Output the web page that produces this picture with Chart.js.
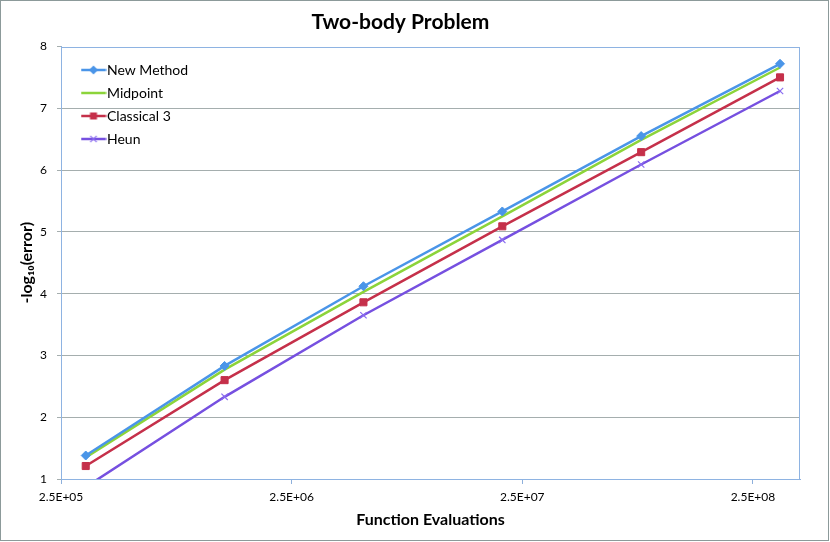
<!DOCTYPE html>
<html><head><meta charset="utf-8">
<script src="https://cdn.jsdelivr.net/npm/chart.js@4.4.1/dist/chart.umd.min.js"></script>
<style>
html,body{margin:0;padding:0;background:#fff;}
#wrap{position:absolute;left:0;top:0;width:827px;height:539px;border:1px solid #8C9A9A;background:#fff;}
canvas{display:block;}
</style></head><body>
<div id="wrap"><canvas id="c" width="827" height="539"></canvas></div>
<script>
// ---- data ----
const evaluations = [320000, 1280000, 5120000, 20480000, 81920000, 327680000];
const newMethod  = [1.38, 2.83, 4.12, 5.33, 6.55, 7.72];
const midpoint   = [1.35, 2.77, 4.03, 5.25, 6.49, 7.66];
const classical3 = [1.21, 2.60, 3.86, 5.09, 6.29, 7.50];
const heun       = [0.87, 2.33, 3.65, 4.87, 6.09, 7.28];
const seriesNames = ['New Method', 'Midpoint', 'Classical 3', 'Heun'];
const xTickValues = [2.5e5, 2.5e6, 2.5e7, 2.5e8];
const xTickLabels = ['2.5E+05', '2.5E+06', '2.5E+07', '2.5E+08'];
const yTickValues = [1, 2, 3, 4, 5, 6, 7, 8];
const chartTitle = 'Two-body Problem';
const xTitle = 'Function Evaluations';
const yTitle = '-log\u2081\u2080(error)';

// ---- styles ----
const FONT = 'Lato, "Liberation Sans", sans-serif';
const colors = ['#4A95E8', '#8CD43A', '#C5304A', '#7650E0'];
const markerColors = ['#4A95E8', '#8CD43A', '#C5304A', '#8A6CF0'];
const markerStyles = ['rectRot', false, 'rect', 'crossRot'];
const markerRadius = [4.5, 0, 5, 4.5];

function makeIcon(i) {
  const c = document.createElement('canvas');
  c.width = 26; c.height = 12;
  const g = c.getContext('2d');
  g.strokeStyle = colors[i]; g.lineWidth = 2.5;
  g.beginPath(); g.moveTo(0.5, 6); g.lineTo(25.5, 6); g.stroke();
  g.fillStyle = markerColors[i]; g.strokeStyle = markerColors[i];
  if (markerStyles[i] === 'rectRot') {
    g.beginPath(); g.moveTo(13, 1.5); g.lineTo(17.5, 6); g.lineTo(13, 10.5); g.lineTo(8.5, 6); g.closePath(); g.fill();
  } else if (markerStyles[i] === 'rect') {
    g.fillRect(9.5, 2.5, 7, 7);
  } else if (markerStyles[i] === 'crossRot') {
    g.lineWidth = 1.2;
    g.beginPath(); g.moveTo(9.8, 2.8); g.lineTo(16.2, 9.2); g.moveTo(16.2, 2.8); g.lineTo(9.8, 9.2); g.stroke();
  }
  return c;
}
const icons = seriesNames.map((_, i) => makeIcon(i));

const seriesValues = [newMethod, midpoint, classical3, heun];
const datasets = seriesNames.map((name, i) => ({
  label: name,
  data: evaluations.map((x, j) => ({ x: x, y: seriesValues[i][j] })),
  borderColor: colors[i],
  backgroundColor: markerColors[i],
  borderWidth: 2.5,
  pointStyle: markerStyles[i] || 'circle',
  pointRadius: markerRadius[i],
  pointHoverRadius: markerRadius[i],
  pointBackgroundColor: markerColors[i],
  pointBorderColor: markerColors[i],
  pointBorderWidth: markerStyles[i] === 'crossRot' ? 1.2 : 1,
  tension: 0,
  fill: false
}));

const areaBorder = {
  id: 'areaBorder',
  afterLayout(chart) {
    const lg = chart.legend, a = chart.chartArea;
    if (lg) {
      const w = lg.width, h = lg.height;
      lg.left = a.left + 17; lg.top = a.top + 7.5;
      lg.right = lg.left + w; lg.bottom = lg.top + h;
    }
  },
  beforeDatasetsDraw(chart) {
    const a = chart.chartArea, g = chart.ctx;
    g.save(); g.strokeStyle = '#8EB3E2'; g.lineWidth = 1;
    g.strokeRect(Math.round(a.left) + 0.5, Math.round(a.top) + 0.5, Math.round(a.right - a.left) - 1, Math.round(a.bottom - a.top) - 1);
    g.restore();
  }
};

new Chart(document.getElementById('c'), {
  type: 'line',
  data: { datasets: datasets },
  options: {
    responsive: false,
    animation: false,
    layout: { padding: { left: 0, right: 28, top: 0, bottom: 0 } },
    plugins: {
      title: {
        display: true, text: chartTitle, color: '#000',
        font: { family: FONT, size: 21, weight: 'bold', lineHeight: 1.2 },
        padding: { top: 8.4, bottom: 11.9 }
      },
      legend: {
        position: 'chartArea', align: 'start',
        labels: {
          usePointStyle: true, pointStyleWidth: 13, padding: 9, color: '#000',
          font: { family: FONT, size: 14 },
          generateLabels(chart) {
            const items = Chart.defaults.plugins.legend.labels.generateLabels(chart);
            items.forEach((it) => { it.pointStyle = icons[it.datasetIndex]; });
            return items;
          }
        }
      },
      tooltip: { enabled: false }
    },
    scales: {
      x: {
        type: 'logarithmic', min: 2.5e5, max: 4e8,
        afterBuildTicks(s) { s.ticks = xTickValues.map(v => ({ value: v })); },
        afterFit(s) { s.height = 61; },
        grid: { display: true, drawOnChartArea: false, drawTicks: true, tickLength: 5, tickColor: '#8EB0DC' },
        border: { display: true, color: '#8EB0DC' },
        ticks: {
          autoSkip: false, maxRotation: 0, padding: 6, color: '#000',
          font: { family: FONT, size: 12 },
          callback(v) { const k = xTickValues.indexOf(v); return k >= 0 ? xTickLabels[k] : ''; }
        },
        title: {
          display: true, text: xTitle, color: '#000',
          font: { family: FONT, size: 16, weight: 'bold', lineHeight: 1.2 },
          padding: { top: 0, bottom: 10.4 }
        }
      },
      y: {
        type: 'linear', min: 1, max: 8,
        afterBuildTicks(s) { s.ticks = yTickValues.map(v => ({ value: v })); },
        afterFit(s) { s.width = 60; },
        grid: {
          color: (c) => (c.tick && (c.tick.value === 1 || c.tick.value === 8)) ? 'rgba(0,0,0,0)' : '#A5AEAE',
          tickLength: 4, tickColor: '#A5AEAE'
        },
        border: { display: true, color: '#8EB0DC' },
        ticks: { padding: 10, color: '#000', font: { family: FONT, size: 12 } },
        title: {
          display: true, text: yTitle, color: '#000',
          font: { family: FONT, size: 16, weight: 'bold', lineHeight: 1.2 },
          padding: { top: 16, bottom: 0 }
        }
      }
    }
  },
  plugins: [areaBorder]
});
</script>
</body></html>
